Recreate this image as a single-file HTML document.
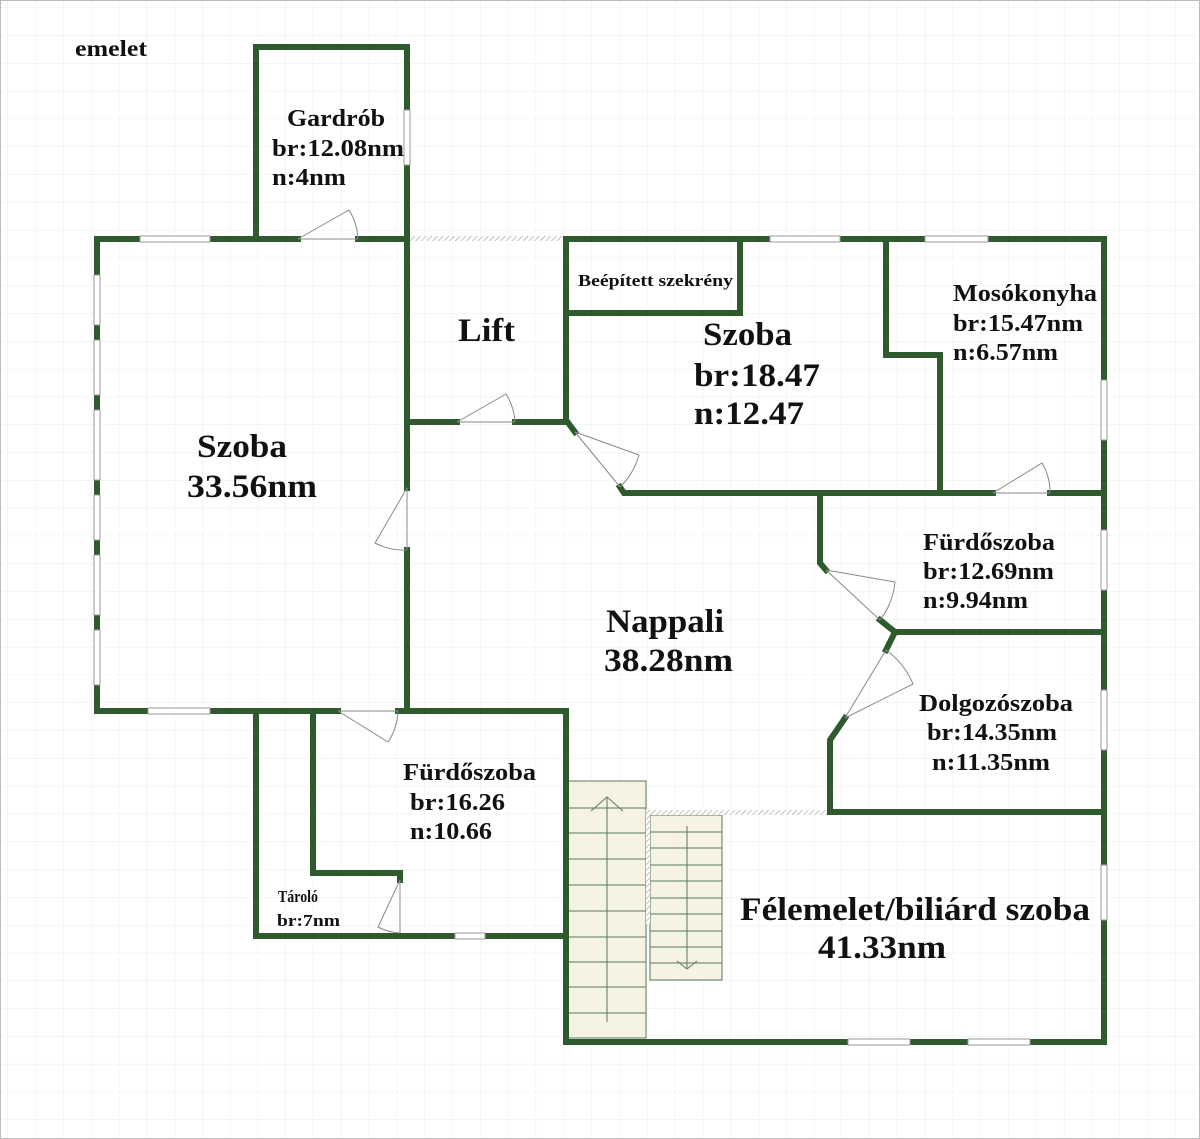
<!DOCTYPE html>
<html><head><meta charset="utf-8"><style>
html,body{margin:0;padding:0;background:#fff;}
svg{display:block;}
text{font-family:"Liberation Serif",serif;font-weight:bold;fill:#111;}
</style></head><body>
<svg width="1200" height="1139" viewBox="0 0 1200 1139" xmlns="http://www.w3.org/2000/svg">
<defs>
<pattern id="g" width="27.8" height="27.8" patternUnits="userSpaceOnUse" x="8" y="8">
<path d="M27.8 0V27.8H0" fill="none" stroke="#eaeeee" stroke-width="1"/>
</pattern>
<pattern id="h" width="4" height="4" patternUnits="userSpaceOnUse" patternTransform="rotate(45)">
<rect width="4" height="4" fill="#fff"/><line x1="0" y1="0" x2="0" y2="4" stroke="#999" stroke-width="1.2"/>
</pattern>
</defs>
<rect width="1200" height="1139" fill="#fff"/>
<rect width="1200" height="1139" fill="url(#g)"/>
<rect x="0.5" y="0.5" width="1199" height="1138" fill="none" stroke="#bbb"/>

<!-- stairs -->
<rect x="568" y="781" width="78" height="257" fill="#f7f3e4" stroke="#5a7a5a" stroke-width="1"/>
<g stroke="#5a7a5a" stroke-width="1">
<line x1="568" y1="808" x2="646" y2="808"/><line x1="568" y1="833" x2="646" y2="833"/><line x1="568" y1="859" x2="646" y2="859"/><line x1="568" y1="885" x2="646" y2="885"/><line x1="568" y1="911" x2="646" y2="911"/><line x1="568" y1="937" x2="646" y2="937"/><line x1="568" y1="962" x2="646" y2="962"/><line x1="568" y1="987" x2="646" y2="987"/><line x1="568" y1="1013" x2="646" y2="1013"/>
<line x1="607" y1="1022" x2="607" y2="797"/><polyline points="591,811 607,797 623,811" fill="none"/>
</g>
<rect x="650" y="815" width="72" height="165" fill="#f7f3e4" stroke="#5a7a5a" stroke-width="1"/>
<g stroke="#5a7a5a" stroke-width="1">
<line x1="650" y1="832" x2="722" y2="832"/><line x1="650" y1="848" x2="722" y2="848"/><line x1="650" y1="865" x2="722" y2="865"/><line x1="650" y1="881" x2="722" y2="881"/><line x1="650" y1="898" x2="722" y2="898"/><line x1="650" y1="914" x2="722" y2="914"/><line x1="650" y1="931" x2="722" y2="931"/><line x1="650" y1="947" x2="722" y2="947"/><line x1="650" y1="963" x2="722" y2="963"/>
<line x1="687" y1="826" x2="687" y2="968"/><polyline points="677,961 687,969 697,961" fill="none"/>
</g>
<rect x="646" y="810" width="4" height="114" fill="url(#h)"/>
<rect x="646" y="810" width="184" height="5" fill="url(#h)"/>
<rect x="407" y="236" width="159" height="5" fill="url(#h)"/>

<!-- walls -->
<g fill="none" stroke="#2e5a2e" stroke-width="6" stroke-linejoin="miter" stroke-linecap="square">
<polyline points="256,239 256,47 407,47 407,110"/>
<polyline points="407,165 407,488"/><polyline points="407,550 407,711"/>
<polyline points="140,239 97,239 97,711 148,711"/>
<line x1="210" y1="239" x2="298" y2="239"/><line x1="358" y1="239" x2="407" y2="239"/>
<line x1="210" y1="711" x2="338" y2="711"/><line x1="398" y1="711" x2="566" y2="711"/>
<polyline points="407,422 457,422"/><polyline points="515,422 566,422 566,239 770,239"/>
<line x1="840" y1="239" x2="925" y2="239"/><polyline points="988,239 1104,239 1104,380"/>
<polyline points="566,420 575,432"/><polyline points="620,487 624,493 993,493"/><line x1="1050" y1="493" x2="1104" y2="493"/>
<polyline points="566,313 740,313 740,239"/>
<polyline points="886,239 886,355 940,355 940,493"/>
<line x1="1104" y1="440" x2="1104" y2="530"/><line x1="1104" y1="590" x2="1104" y2="690"/><line x1="1104" y1="750" x2="1104" y2="865"/><polyline points="1104,920 1104,1042 1030,1042"/>
<line x1="968" y1="1042" x2="910" y2="1042"/><polyline points="848,1042 566,1042 566,711"/>
<polyline points="820,493 820,563 826,570"/>
<polyline points="880,620 895,632 1104,632"/><polyline points="895,632 886,650"/>
<polyline points="845,718 830,740 830,812 1104,812"/>
<polyline points="256,711 256,936 455,936"/><polyline points="485,936 566,936"/>
<polyline points="313,711 313,873 400,873 400,880"/>
</g>

<!-- windows -->
<g fill="#fff" stroke="#999" stroke-width="1">
<rect x="140" y="236" width="70" height="6"/><rect x="770" y="236" width="70" height="6"/><rect x="925" y="236" width="63" height="6"/>
<rect x="148" y="708" width="62" height="6"/><rect x="455" y="933" width="30" height="6"/>
<rect x="848" y="1039" width="62" height="6"/><rect x="968" y="1039" width="62" height="6"/>
<rect x="404" y="110" width="6" height="55"/>
<rect x="1101" y="380" width="6" height="60"/><rect x="1101" y="530" width="6" height="60"/><rect x="1101" y="690" width="6" height="60"/><rect x="1101" y="865" width="6" height="55"/>
<rect x="94" y="275" width="6" height="50"/><rect x="94" y="340" width="6" height="55"/><rect x="94" y="410" width="6" height="70"/><rect x="94" y="495" width="6" height="45"/><rect x="94" y="555" width="6" height="60"/><rect x="94" y="630" width="6" height="55"/>
</g>

<!-- doors -->
<g fill="none" stroke="#888" stroke-width="1">
<line x1="298" y1="239" x2="358" y2="239"/><path d="M298,239 L349,210 A60,60 0 0 1 358,239"/>
<line x1="457" y1="422" x2="515" y2="422"/><path d="M457,422 L506,394 A58,58 0 0 1 515,422"/>
<line x1="575" y1="432" x2="620" y2="487"/><path d="M575,432 L639,455 A70,70 0 0 1 620,487"/>
<line x1="993" y1="493" x2="1050" y2="493"/><path d="M993,493 L1042,463 A57,57 0 0 1 1050,493"/>
<line x1="826" y1="570" x2="880" y2="620"/><path d="M826,570 L895,582 A73,73 0 0 1 880,620"/>
<line x1="886" y1="650" x2="845" y2="718"/><path d="M886,650 A80,80 0 0 1 913,684 L845,718"/>
<line x1="407" y1="488" x2="407" y2="550"/><path d="M407,488 L375,543 A62,62 0 0 0 407,550"/>
<line x1="338" y1="711" x2="398" y2="711"/><path d="M338,711 L388,742 A60,60 0 0 0 398,711"/>
<line x1="400" y1="880" x2="400" y2="933"/><path d="M400,880 L378,927 A53,53 0 0 0 400,933"/>
</g>

<!-- labels -->
<g lengthAdjust="spacingAndGlyphs">
<text x="75" y="56" font-size="23" textLength="72" lengthAdjust="spacingAndGlyphs">emelet</text>
<text x="287" y="126" font-size="24" textLength="98" lengthAdjust="spacingAndGlyphs">Gardrób</text>
<text x="272" y="156" font-size="24" textLength="132" lengthAdjust="spacingAndGlyphs">br:12.08nm</text>
<text x="272" y="185" font-size="24" textLength="74" lengthAdjust="spacingAndGlyphs">n:4nm</text>
<text x="578" y="286" font-size="17" textLength="155" lengthAdjust="spacingAndGlyphs">Beépített szekrény</text>
<text x="458" y="341" font-size="33" textLength="57" lengthAdjust="spacingAndGlyphs">Lift</text>
<text x="703" y="345" font-size="33" textLength="89" lengthAdjust="spacingAndGlyphs">Szoba</text>
<text x="694" y="386" font-size="33" textLength="126" lengthAdjust="spacingAndGlyphs">br:18.47</text>
<text x="694" y="424" font-size="33" textLength="110" lengthAdjust="spacingAndGlyphs">n:12.47</text>
<text x="953" y="301" font-size="24" textLength="144" lengthAdjust="spacingAndGlyphs">Mosókonyha</text>
<text x="953" y="331" font-size="24" textLength="130" lengthAdjust="spacingAndGlyphs">br:15.47nm</text>
<text x="953" y="360" font-size="24" textLength="105" lengthAdjust="spacingAndGlyphs">n:6.57nm</text>
<text x="197" y="457" font-size="33" textLength="90" lengthAdjust="spacingAndGlyphs">Szoba</text>
<text x="187" y="497" font-size="33" textLength="130" lengthAdjust="spacingAndGlyphs">33.56nm</text>
<text x="923" y="550" font-size="24" textLength="132" lengthAdjust="spacingAndGlyphs">Fürdőszoba</text>
<text x="923" y="579" font-size="24" textLength="131" lengthAdjust="spacingAndGlyphs">br:12.69nm</text>
<text x="923" y="608" font-size="24" textLength="105" lengthAdjust="spacingAndGlyphs">n:9.94nm</text>
<text x="606" y="632" font-size="33" textLength="118" lengthAdjust="spacingAndGlyphs">Nappali</text>
<text x="604" y="671" font-size="33" textLength="129" lengthAdjust="spacingAndGlyphs">38.28nm</text>
<text x="919" y="711" font-size="24" textLength="154" lengthAdjust="spacingAndGlyphs">Dolgozószoba</text>
<text x="927" y="740" font-size="24" textLength="130" lengthAdjust="spacingAndGlyphs">br:14.35nm</text>
<text x="932" y="770" font-size="24" textLength="118" lengthAdjust="spacingAndGlyphs">n:11.35nm</text>
<text x="403" y="780" font-size="24" textLength="133" lengthAdjust="spacingAndGlyphs">Fürdőszoba</text>
<text x="410" y="810" font-size="24" textLength="95" lengthAdjust="spacingAndGlyphs">br:16.26</text>
<text x="410" y="839" font-size="24" textLength="82" lengthAdjust="spacingAndGlyphs">n:10.66</text>
<text x="278" y="902" font-size="17" textLength="40" lengthAdjust="spacingAndGlyphs">Tároló</text>
<text x="277" y="926" font-size="17" textLength="63" lengthAdjust="spacingAndGlyphs">br:7nm</text>
<text x="740" y="920" font-size="33" textLength="350" lengthAdjust="spacingAndGlyphs">Félemelet/biliárd szoba</text>
<text x="818" y="958" font-size="33" textLength="128" lengthAdjust="spacingAndGlyphs">41.33nm</text>
</g>
</svg>
</body></html>
